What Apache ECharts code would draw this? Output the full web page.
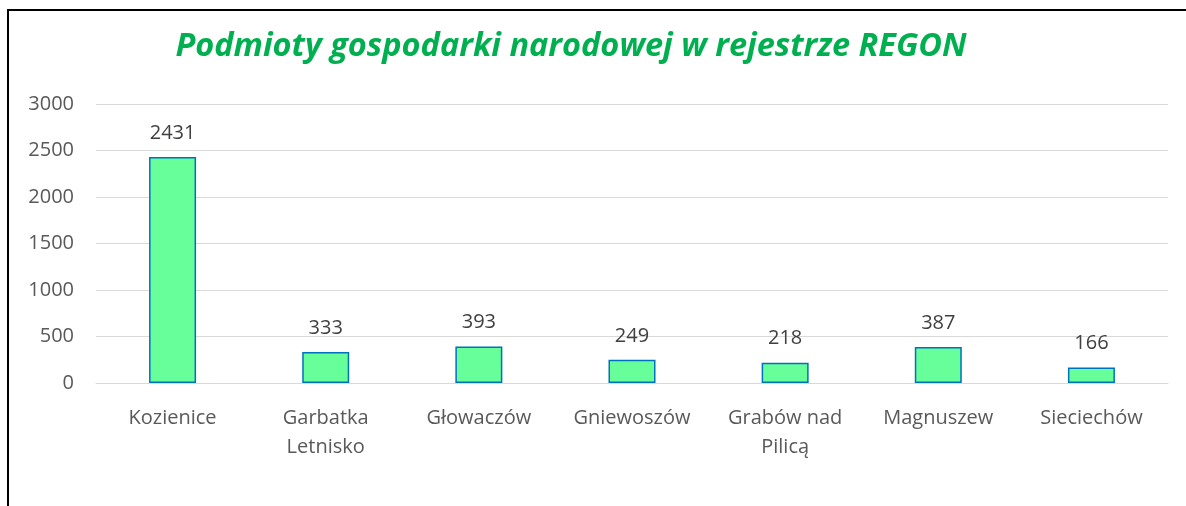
<!DOCTYPE html>
<html>
<head>
<meta charset="utf-8">
<script src="https://cdn.jsdelivr.net/npm/echarts@6/dist/echarts.min.js"></script>
<style>
html,body{margin:0;padding:0;background:#fff;}
#chart{width:1186px;height:506px;}
</style>
</head>
<body>
<div id="chart"></div>
<script>
const titleText = 'Podmioty gospodarki narodowej w rejestrze REGON';
const categories = ['Kozienice', 'Garbatka\nLetnisko', 'Głowaczów', 'Gniewoszów', 'Grabów nad\nPilicą', 'Magnuszew', 'Sieciechów'];
const values = [2431, 333, 393, 249, 218, 387, 166];
const yTicks = [0, 500, 1000, 1500, 2000, 2500, 3000];

const FONT = 'Open Sans';
const chart = echarts.init(document.getElementById('chart'), null, {renderer: 'canvas'});
chart.setOption({
  animation: false,
  backgroundColor: '#ffffff',
  title: {
    text: titleText,
    left: 566,
    textAlign: 'center',
    top: 25,
    textStyle: {color: '#00b050', fontSize: 32.5, fontWeight: 'bold', fontStyle: 'italic', fontFamily: FONT}
  },
  graphic: [{
    type: 'rect',
    shape: {x: 8, y: 10, width: 1300, height: 700},
    style: {fill: 'none', stroke: '#000000', lineWidth: 2},
    silent: true
  }],
  grid: {left: 96, right: 18, top: 104, bottom: 123, containLabel: false},
  xAxis: {
    type: 'category',
    data: categories,
    axisLine: {show: true, lineStyle: {color: '#d9d9d9', width: 1}},
    axisTick: {show: false},
    axisLabel: {color: '#595959', fontSize: 20, fontFamily: FONT, margin: 21, lineHeight: 29, interval: 0}
  },
  yAxis: {
    type: 'value',
    min: 0, max: 3000, interval: 500,
    axisLine: {show: false},
    axisTick: {show: false},
    splitLine: {lineStyle: {color: '#d9d9d9', width: 1}},
    axisLabel: {color: '#595959', fontSize: 20, fontFamily: FONT, margin: 22,
      formatter: v => yTicks.includes(v) ? String(v) : ''}
  },
  series: [{
    type: 'bar',
    data: values,
    barWidth: 47,
    itemStyle: {color: '#66ff99', borderColor: '#0070c0', borderWidth: 1.5},
    label: {show: true, position: 'top', distance: 14, color: '#404040', fontSize: 20, fontFamily: FONT}
  }]
});
</script>
</body>
</html>
